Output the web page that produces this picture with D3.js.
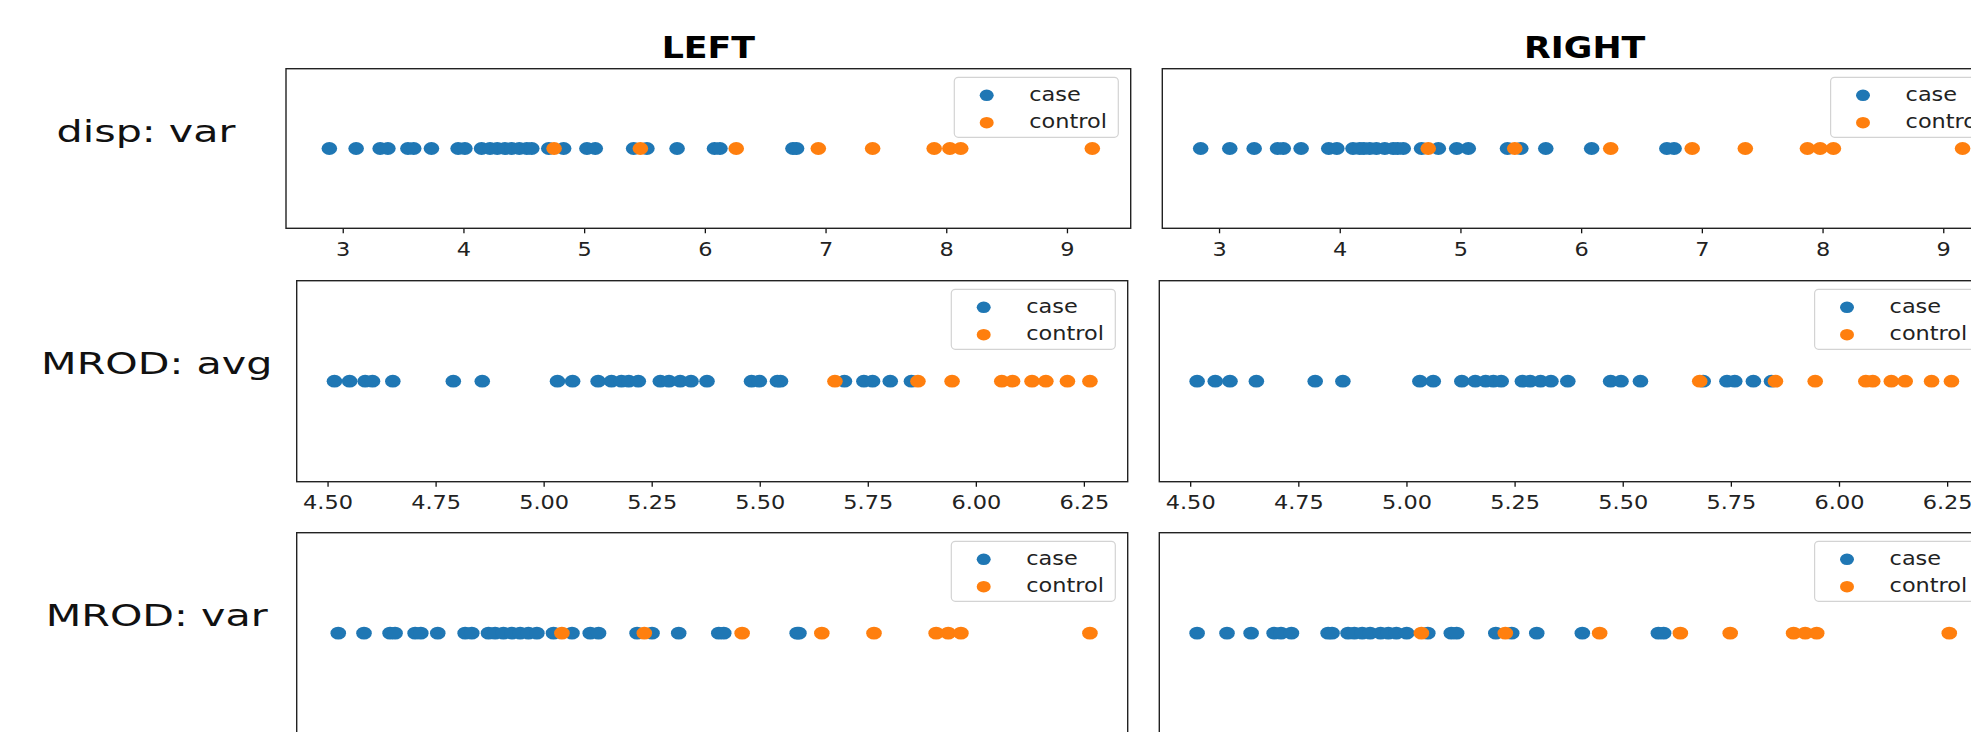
<!DOCTYPE html>
<html><head><meta charset="utf-8">
<script src="https://cdn.jsdelivr.net/npm/d3@7"></script>
<style>html,body{margin:0;padding:0;background:#fff;overflow:hidden}</style>
</head><body><svg id="chart" width="1971" height="732"></svg>
<script>
// ---------------- data ----------------
const rowLabels = ["disp: var", "MROD: avg", "MROD: var"];
const colTitles = ["LEFT", "RIGHT"];
const seriesNames = ["case", "control"];
const seriesColors = ["#1f77b4", "#ff7f0e"];

const dispVarLeftCase = [2.889, 3.111, 3.31, 3.374, 3.54, 3.588, 3.735, 3.956, 4.012, 4.15, 4.22, 4.28, 4.344, 4.4, 4.463, 4.525, 4.566, 4.707, 4.83, 5.023, 5.092, 5.41, 5.52, 5.77, 6.08, 6.125, 6.73, 6.76];
const dispVarLeftControl = [4.751, 5.466, 6.26, 6.94, 7.39, 7.90, 8.03, 8.12, 9.21];
const dispVarRightCase = [2.848, 3.089, 3.291, 3.485, 3.532, 3.68, 3.909, 3.976, 4.11, 4.165, 4.2, 4.248, 4.304, 4.373, 4.443, 4.48, 4.526, 4.678, 4.817, 4.969, 5.065, 5.39, 5.5, 5.707, 6.087, 6.71, 6.77];
const dispVarRightControl = [4.733, 5.45, 6.245, 6.92, 7.36, 7.875, 7.98, 8.09, 9.16];

const mrodAvgLeftCase = [4.516, 4.551, 4.587, 4.604, 4.651, 4.791, 4.858, 5.032, 5.067, 5.126, 5.157, 5.180, 5.197, 5.219, 5.270, 5.290, 5.316, 5.341, 5.378, 5.481, 5.499, 5.541, 5.548, 5.696, 5.741, 5.761, 5.802, 5.851];
const mrodAvgLeftControl = [5.674, 5.866, 5.945, 6.06, 6.085, 6.13, 6.162, 6.212, 6.264];
const mrodAvgRightCase = [4.516, 4.558, 4.592, 4.653, 4.789, 4.853, 5.031, 5.062, 5.128, 5.159, 5.183, 5.201, 5.219, 5.268, 5.286, 5.310, 5.334, 5.373, 5.472, 5.496, 5.541, 5.686, 5.741, 5.759, 5.802, 5.844];
const mrodAvgRightControl = [5.678, 5.853, 5.945, 6.062, 6.078, 6.121, 6.153, 6.214, 6.26];

const mrodVarLeftCase = [2.875, 3.092, 3.312, 3.354, 3.523, 3.571, 3.714, 3.945, 4.001, 4.142, 4.198, 4.268, 4.339, 4.409, 4.479, 4.550, 4.69, 4.846, 5.0, 5.07, 5.395, 5.521, 5.746, 6.084, 6.126, 6.745, 6.76];
const mrodVarLeftControl = [4.761, 5.456, 6.281, 6.953, 7.393, 7.917, 8.019, 8.126, 9.214];
const mrodVarRightCase = [2.843, 3.095, 3.298, 3.492, 3.55, 3.638, 3.947, 3.98, 4.115, 4.168, 4.234, 4.301, 4.389, 4.455, 4.522, 4.609, 4.787, 4.985, 5.03, 5.36, 5.494, 5.705, 6.089, 6.73, 6.774];
const mrodVarRightControl = [4.733, 5.44, 6.235, 6.915, 7.335, 7.869, 7.967, 8.064, 9.181];

const dispVarTicks = [3, 4, 5, 6, 7, 8, 9];
const mrodAvgTicks = [4.50, 4.75, 5.00, 5.25, 5.50, 5.75, 6.00, 6.25];
const mrodVarTicks = [3, 4, 5, 6, 7, 8, 9];

// ---------------- assemble ----------------
const rows = [
  { label: rowLabels[0], ticks: dispVarTicks, fmt: d3.format("d"),
    cols: [[dispVarLeftCase, dispVarLeftControl], [dispVarRightCase, dispVarRightControl]] },
  { label: rowLabels[1], ticks: mrodAvgTicks, fmt: d3.format(".2f"),
    cols: [[mrodAvgLeftCase, mrodAvgLeftControl], [mrodAvgRightCase, mrodAvgRightControl]] },
  { label: rowLabels[2], ticks: mrodVarTicks, fmt: d3.format("d"),
    cols: [[mrodVarLeftCase, mrodVarLeftControl], [mrodVarRightCase, mrodVarRightControl]] }
];

// layout (pixels)
const boxes = [
  [{x0: 286, x1: 1130.7, y0: 68.7, y1: 228.3}, {x0: 1162.3, x1: 2007, y0: 68.7, y1: 228.3}],
  [{x0: 296.7, x1: 1127.7, y0: 280.7, y1: 481.7}, {x0: 1159.3, x1: 1991, y0: 280.7, y1: 481.7}],
  [{x0: 296.7, x1: 1127.7, y0: 532.7, y1: 733.6}, {x0: 1159.3, x1: 1991, y0: 532.7, y1: 733.6}]
];

const FONT = "DejaVu Sans, Verdana, sans-serif";
const SX_TICK = 1.15, SX_LEG = 1.12, SX_TITLE = 1.18, SX_ROW = 1.33;
const DOT_RX = 7.8, DOT_RY = 6.4;

const svg = d3.select("#chart");
svg.append("rect").attr("width", 1971).attr("height", 732).attr("fill", "#fff");

rows.forEach((row, ri) => {
  const all = row.cols.flat(2);
  const [mn, mx] = d3.extent(all);
  const pad = (mx - mn) * 0.05;
  const domain = [mn - pad, mx + pad];

  row.cols.forEach((series, ci) => {
    const b = boxes[ri][ci];
    const x = d3.scaleLinear().domain(domain).range([b.x0, b.x1]);
    const y = d3.scaleLinear().domain([-1, 1]).range([b.y1, b.y0]);
    const g = svg.append("g");

    // axis
    const axis = d3.axisBottom(x).tickValues(row.ticks).tickFormat(row.fmt)
      .tickSize(5).tickPadding(8.7).tickSizeOuter(0);
    const ag = g.append("g").attr("transform", `translate(0,${b.y1})`).call(axis);
    ag.select(".domain").remove();
    ag.selectAll(".tick line").attr("stroke", "#111").attr("stroke-width", 1.3);
    ag.selectAll(".tick text").attr("fill", "#222")
      .style("font-family", FONT).style("font-size", "19.5px")
      .attr("transform", `scale(${SX_TICK},1)`);

    // points
    series.forEach((vals, si) => {
      g.append("g").selectAll("ellipse").data(vals).join("ellipse")
        .attr("cx", d => x(d)).attr("cy", y(0))
        .attr("rx", DOT_RX).attr("ry", DOT_RY)
        .attr("fill", seriesColors[si]);
    });

    // frame
    g.append("rect").attr("x", b.x0).attr("y", b.y0)
      .attr("width", b.x1 - b.x0).attr("height", b.y1 - b.y0)
      .attr("fill", "none").attr("stroke", "#222").attr("stroke-width", 1.4);

    // legend
    const lw = 164, lh = 60;
    const lx = b.x1 - 12.4 - lw, ly = b.y0 + 8.6;
    const lg = g.append("g");
    lg.append("rect").attr("x", lx).attr("y", ly).attr("width", lw).attr("height", lh)
      .attr("rx", 4).attr("fill", "#fff").attr("fill-opacity", 0.8)
      .attr("stroke", "#d3d3d3").attr("stroke-width", 1.2);
    seriesNames.forEach((name, si) => {
      const cy = ly + 18 + si * 27.4;
      lg.append("ellipse").attr("cx", lx + 32.4).attr("cy", cy)
        .attr("rx", 7).attr("ry", 5.8).attr("fill", seriesColors[si]);
      lg.append("text").attr("transform", `translate(${lx + 75},${cy + 5.7}) scale(${SX_LEG},1)`)
        .style("font-family", FONT).style("font-size", "20px").attr("fill", "#222")
        .text(name);
    });

    // column title
    if (ri === 0) {
      svg.append("text")
        .attr("transform", `translate(${(b.x0 + b.x1) / 2},${b.y0 - 10.4}) scale(${SX_TITLE},1)`)
        .attr("text-anchor", "middle")
        .style("font-family", FONT).style("font-size", "29.5px").style("font-weight", "bold")
        .attr("fill", "#000").text(colTitles[ci]);
    }
    // row label
    if (ci === 0) {
      const cy = (b.y0 + b.y1) / 2;
      svg.append("text")
        .attr("transform", `translate(${b.x0 - 140},${cy - 6.8}) scale(${SX_ROW},1)`)
        .attr("text-anchor", "middle")
        .style("font-family", FONT).style("font-size", "31px")
        .attr("fill", "#111").text(row.label);
    }
  });
});
</script></body></html>
